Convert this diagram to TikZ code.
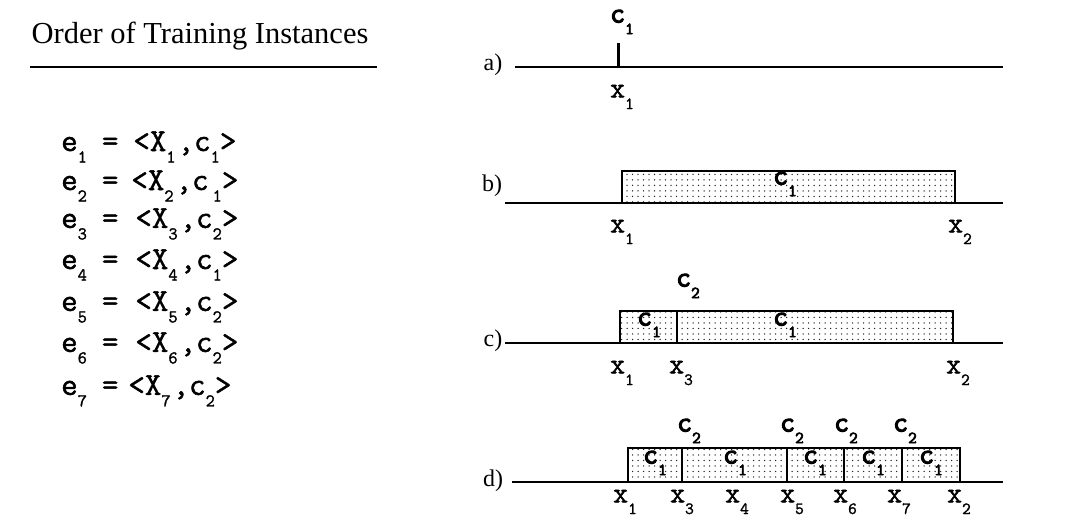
\documentclass[tikz,border=0pt]{standalone}
\usepackage{fontspec}
\setmainfont{Liberation Serif}
\newfontfamily\mono{Latin Modern Mono}[FakeBold=1.5]
\newfontfamily\monob{Latin Modern Mono}[FakeBold=3.5]
\usetikzlibrary{patterns.meta}
\newcommand\lo[1]{\raisebox{-0.36em}{\fontsize{18}{18}\selectfont #1}}
\newcommand\slo[1]{\raisebox{-0.4em}{\fontsize{17}{17}\selectfont #1}}
\newcommand\eqrow[4]{e\lo{#1}\kern15pt=\kern#4<X\lo{#2}\kern2pt,c\lo{#3}>}
\tikzset{
  axisline/.style={line width=2.2pt},
  cellbox/.style={draw, line width=2pt, pattern={Dots[distance=5.5pt,radius=0.75pt]}, pattern color=black!85},
  partlbl/.style={font=\fontsize{24}{24}\selectfont, inner sep=0},
  clslbl/.style={font=\fontsize{29}{29}\selectfont\monob, inner sep=0},
  ptlbl/.style={font=\fontsize{29}{29}\selectfont\mono, inner sep=0},
  eqn/.style={font=\fontsize{32}{32}\selectfont\mono, anchor=west, inner sep=0},
}
\begin{document}
\begin{tikzpicture}[x=1pt,y=-1pt]
\useasboundingbox (0,0) rectangle (1071,521);
% left column
\node[font=\fontsize{30.5}{30.5}\selectfont, inner sep=0] (title) at (200,36) {Order of Training Instances};
\coordinate (rl) at (30,67);
\coordinate (rr) at (377,67);
\draw[line width=2pt] (rl) -- (rr);
\node[eqn] (e1) at (61,147) {\eqrow{1}{1}{1}{15pt}};
\node[eqn] (e2) at (61,186) {e\lo{2}\kern15pt=\kern13pt<X\lo{2}\kern2pt,c\kern4pt\lo{1}>};
\node[eqn] (e3) at (61,224) {\eqrow{3}{3}{2}{17pt}};
\node[eqn] (e4) at (61,265) {\eqrow{4}{4}{1}{17pt}};
\node[eqn] (e5) at (61,307) {\eqrow{5}{5}{2}{17pt}};
\node[eqn] (e6) at (61,348) {\eqrow{6}{6}{2}{17pt}};
\node[eqn] (e7) at (61,391) {\eqrow{7}{7}{2}{10pt}};
% a)
\node[partlbl] (la) at (493,65) {a)};
\coordinate (a0) at (515,67); \coordinate (a1) at (1003,67);
\draw[axisline] (a0) -- (a1);
\coordinate (tb) at (618,67); \coordinate (tt) at (618,43);
\draw[line width=3pt] (tb) -- (tt);
\node[clslbl] (ac) at (622,22) {c\slo{1}};
\node[ptlbl] (ax1) at (622,97) {x\slo{1}};
% b)
\node[partlbl] (lb) at (492,186) {b)};
\coordinate (b0) at (505,203); \coordinate (b1) at (1003,203);
\draw[axisline] (b0) -- (b1);
\draw[cellbox] (622,171) rectangle (955,203);
\node[clslbl] (bc) at (785,184) {c\slo{1}};
\node[ptlbl] (bx1) at (622,232) {x\slo{1}};
\node[ptlbl] (bx2) at (960,232) {x\slo{2}};
% c)
\node[partlbl] (lc) at (493,341) {c)};
\coordinate (c0) at (505,343); \coordinate (c1) at (1003,343);
\draw[axisline] (c0) -- (c1);
\draw[cellbox] (620,311) rectangle (677,343);
\draw[cellbox] (677,311) rectangle (953,343);
\node[clslbl] (cc1) at (649,325) {c\slo{1}};
\node[clslbl] (cc2) at (785,325) {c\slo{1}};
\node[clslbl] (ctop) at (688,286) {c\slo{2}};
\node[ptlbl] (cx1) at (622,373) {x\slo{1}};
\node[ptlbl] (cx3) at (681,373) {x\slo{3}};
\node[ptlbl] (cx2) at (958,373) {x\slo{2}};
% d)
\node[partlbl] (ld) at (493,481) {d)};
\coordinate (d0) at (512,482); \coordinate (d1) at (1003,482);
\draw[axisline] (d0) -- (d1);
\draw[cellbox] (628,448) rectangle (682,482);
\draw[cellbox] (682,448) rectangle (787,482);
\draw[cellbox] (787,448) rectangle (844,482);
\draw[cellbox] (844,448) rectangle (902,482);
\draw[cellbox] (902,448) rectangle (960,482);
\node[clslbl] (dc1) at (655,463) {c\slo{1}};
\node[clslbl] (dc2) at (735,463) {c\slo{1}};
\node[clslbl] (dc3) at (815,463) {c\slo{1}};
\node[clslbl] (dc4) at (873,463) {c\slo{1}};
\node[clslbl] (dc5) at (931,463) {c\slo{1}};
\node[clslbl] (dt1) at (689,431) {c\slo{2}};
\node[clslbl] (dt2) at (792,431) {c\slo{2}};
\node[clslbl] (dt3) at (846,431) {c\slo{2}};
\node[clslbl] (dt4) at (905,431) {c\slo{2}};
\node[ptlbl] (dx1) at (625,502) {x\slo{1}};
\node[ptlbl] (dx3) at (682,502) {x\slo{3}};
\node[ptlbl] (dx4) at (737,502) {x\slo{4}};
\node[ptlbl] (dx5) at (792,502) {x\slo{5}};
\node[ptlbl] (dx6) at (845,502) {x\slo{6}};
\node[ptlbl] (dx7) at (899,502) {x\slo{7}};
\node[ptlbl] (dx2) at (959,502) {x\slo{2}};
\end{tikzpicture}
\end{document}
